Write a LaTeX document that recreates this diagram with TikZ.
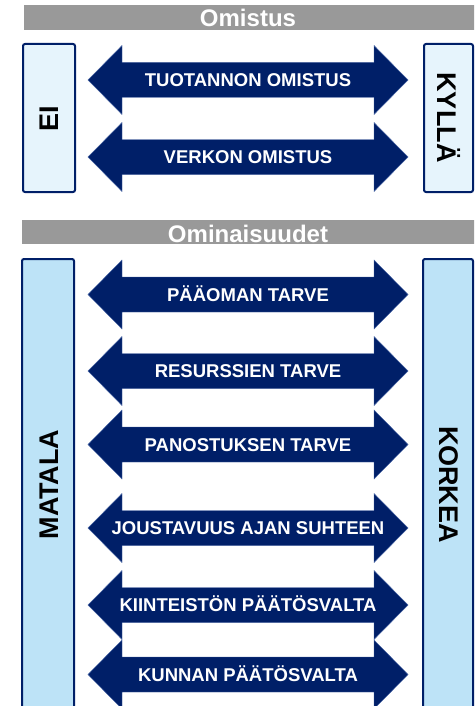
\documentclass[tikz,border=0pt]{standalone}
\usepackage{fontspec}
\setmainfont{Liberation Sans}
\definecolor{navy}{RGB}{0,31,104}
\definecolor{arrowedge}{RGB}{70,100,165}
\definecolor{paleblue}{RGB}{230,244,252}
\definecolor{lightblue}{RGB}{189,227,247}
\definecolor{headgray}{RGB}{153,153,153}
\tikzset{
  arrowbody/.style={fill=navy, draw=arrowedge, line width=0.4pt, line join=miter},
  arrowtext/.style={text=white, font=\bfseries\fontsize{18.5}{18.5}\selectfont, inner sep=0pt, text height=13.2pt, text depth=0pt, anchor=center},
  headbar/.style={fill=headgray},
  headtext/.style={text=white, font=\bfseries\fontsize{24}{24}\selectfont, inner sep=0pt, text height=17.2pt, text depth=0pt, anchor=center},
  sidebox/.style={draw=navy, line width=2pt, rounded corners=2pt},
  sidetext/.style={text=black, font=\bfseries\fontsize{27}{27}\selectfont, inner sep=0pt, text height=19.3pt, text depth=0pt, anchor=center}
}
\newcommand\bigarrow[3]{%
  \filldraw[arrowbody] (88,#2) -- (122,#2-34.5) -- (122,#2-17.5) -- (374,#2-17.5) -- (374,#2-34.5) -- (408,#2)
    -- (374,#2+34.5) -- (374,#2+17.5) -- (122,#2+17.5) -- (122,#2+34.5) -- cycle;
  \node[arrowtext] (#1) at (248,#2) {#3};
}
\begin{document}
\begin{tikzpicture}[x=1pt,y=-1pt]
\useasboundingbox (0,0) rectangle (474,706);
\clip (0,0) rectangle (474,706);
\fill[white] (0,0) rectangle (474,706);

% --- Omistus section
\fill[headbar] (24,5) rectangle (476,30);
\node[headtext] (h1) at (248,18.3) {Omistus};

\filldraw[sidebox, fill=paleblue] (23,44) rectangle (75,192);
\filldraw[sidebox, fill=paleblue] (424,44) rectangle (473,192);
\node[sidetext, rotate=90] (ei) at (49,118.5) {EI};
\node[sidetext, rotate=-90] (kylla) at (447.5,117.5) {KYLLÄ};

\bigarrow{a1}{80}{TUOTANNON OMISTUS}
\bigarrow{a2}{157}{VERKON OMISTUS}

% --- Ominaisuudet section
\fill[headbar] (22,220) rectangle (476,244);
\node[headtext] (h2) at (248,234.3) {Ominaisuudet};

\filldraw[sidebox, fill=lightblue] (22,259) rectangle (74,720);
\filldraw[sidebox, fill=lightblue] (423,259) rectangle (473,720);
\node[sidetext, rotate=90] (matala) at (49,484.5) {MATALA};
\node[sidetext, rotate=-90] (korkea) at (449,484.5) {KORKEA};

\bigarrow{b1}{294.5}{PÄÄOMAN TARVE}
\bigarrow{b2}{371}{RESURSSIEN TARVE}
\bigarrow{b3}{444.5}{PANOSTUKSEN TARVE}
\bigarrow{b4}{528}{JOUSTAVUUS AJAN SUHTEEN}
\bigarrow{b5}{605}{KIINTEISTÖN PÄÄTÖSVALTA}
\bigarrow{b6}{674.5}{KUNNAN PÄÄTÖSVALTA}
\end{tikzpicture}
\end{document}
